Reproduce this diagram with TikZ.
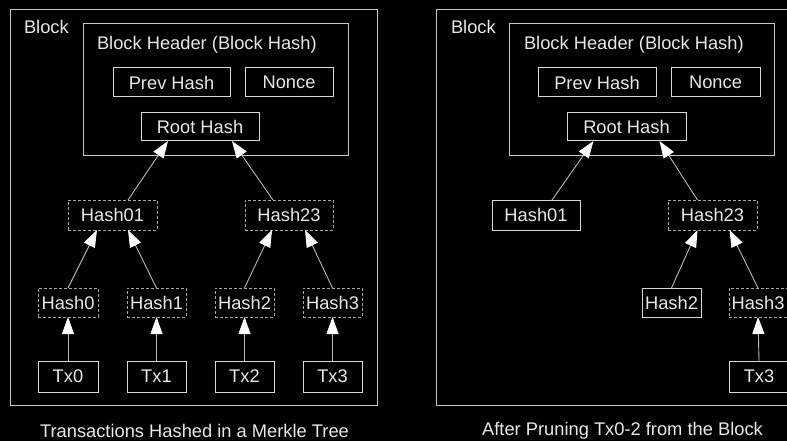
\documentclass[tikz,border=0pt]{standalone}
\usepackage{fontspec}
\setmainfont{Liberation Sans}
\usetikzlibrary{arrows.meta,calc}
\definecolor{txtcol}{HTML}{E8E8E8}
\definecolor{boxcol}{HTML}{D8D8D8}
\definecolor{dashcol}{HTML}{A8A8A8}
\definecolor{framecol}{HTML}{C8C8C8}
\definecolor{linecol}{HTML}{B8B8B8}
\tikzset{
  base/.style={rectangle, inner sep=0pt, outer sep=0pt, text=txtcol,
    font=\fontsize{18.3}{21}\selectfont, line width=1pt},
  solidbox/.style={base, draw=boxcol},
  dashbox/.style={base, draw=dashcol, dash pattern=on 3pt off 2pt},
  framebox/.style={base, draw=framecol},
  lbl/.style={inner sep=0pt, outer sep=0pt, text=txtcol, font=\fontsize{18.3}{21}\selectfont},
  conn/.style={draw=linecol, line width=0.9pt,
    -{Triangle[length=17pt,width=12pt,fill=white,color=white]}},
}
\begin{document}
\begin{tikzpicture}[x=1pt,y=-1pt]
\useasboundingbox (0,0) rectangle (787,441);
\clip (0,0) rectangle (787,441);
\fill[black] (0,0) rectangle (787,441);

% ---------- Left diagram ----------
\node[framebox, minimum width=367pt, minimum height=395pt] (blkL) at (193.5,207.5) {};
\node[lbl, anchor=base west] (blkLlbl) at (24,34) {Block};
\node[framebox, minimum width=265pt, minimum height=132pt] (hdrL) at (215.5,90) {};
\node[lbl, anchor=base west] (hdrLlbl) at (97,50) {Block Header (Block Hash)};
\node[solidbox, minimum width=117pt, minimum height=29pt] (prevL) at (171.5,82.5) {Prev Hash};
\node[solidbox, minimum width=88pt, minimum height=29pt] (nonceL) at (289,82.5) {Nonce};
\node[solidbox, minimum width=118pt, minimum height=28pt] (rootL) at (200,127) {Root Hash};
\node[dashbox, minimum width=89pt, minimum height=30pt] (h01L) at (112.5,215) {Hash01};
\node[dashbox, minimum width=88pt, minimum height=30pt] (h23L) at (289,215) {Hash23};
\node[dashbox, minimum width=60pt, minimum height=29pt] (h0L) at (68,302.5) {Hash0};
\node[dashbox, minimum width=59pt, minimum height=29pt] (h1L) at (156.5,302.5) {Hash1};
\node[dashbox, minimum width=59pt, minimum height=29pt] (h2L) at (244.5,302.5) {Hash2};
\node[dashbox, minimum width=59pt, minimum height=29pt] (h3L) at (332.5,302.5) {Hash3};
\node[solidbox, minimum width=60pt, minimum height=31pt] (tx0L) at (68,376.5) {Tx0};
\node[solidbox, minimum width=59pt, minimum height=31pt] (tx1L) at (156.5,376.5) {Tx1};
\node[solidbox, minimum width=59pt, minimum height=31pt] (tx2L) at (244.5,376.5) {Tx2};
\node[solidbox, minimum width=59pt, minimum height=31pt] (tx3L) at (332.5,376.5) {Tx3};
\node[lbl] (capL) at (194.5,431) {Transactions Hashed in a Merkle Tree};

\draw[conn] ($(h01L.north)+(15.5,0)$) -- ($(rootL.south)+(-32,0)$);
\draw[conn] ($(h23L.north)+(-16,0)$) -- ($(rootL.south)+(32,0)$);
\draw[conn] (h0L.north) -- ($(h01L.south)+(-15.5,0)$);
\draw[conn] (h1L.north) -- ($(h01L.south)+(15.5,0)$);
\draw[conn] (h2L.north) -- ($(h23L.south)+(-17,0)$);
\draw[conn] (h3L.north) -- ($(h23L.south)+(16,0)$);
\draw[conn] (tx0L.north) -- (h0L.south);
\draw[conn] (tx1L.north) -- (h1L.south);
\draw[conn] (tx2L.north) -- (h2L.south);
\draw[conn] (tx3L.north) -- (h3L.south);

% ---------- Right diagram ----------
\node[framebox, minimum width=367pt, minimum height=395pt] (blkR) at (619.5,207.5) {};
\node[lbl, anchor=base west] (blkRlbl) at (451,34) {Block};
\node[framebox, minimum width=265pt, minimum height=132pt] (hdrR) at (641.5,90) {};
\node[lbl, anchor=base west] (hdrRlbl) at (524,50) {Block Header (Block Hash)};
\node[solidbox, minimum width=118pt, minimum height=29pt] (prevR) at (597,82.5) {Prev Hash};
\node[solidbox, minimum width=89pt, minimum height=29pt] (nonceR) at (715.5,82.5) {Nonce};
\node[solidbox, minimum width=119pt, minimum height=28pt] (rootR) at (626.5,127) {Root Hash};
\node[solidbox, minimum width=88pt, minimum height=30pt] (h01R) at (536,215) {Hash01};
\node[dashbox, minimum width=89pt, minimum height=30pt] (h23R) at (712.5,215) {Hash23};
\node[solidbox, minimum width=59pt, minimum height=29pt] (h2R) at (671.5,302.5) {Hash2};
\node[dashbox, minimum width=58pt, minimum height=29pt] (h3R) at (758,302.5) {Hash3};
\node[solidbox, minimum width=60pt, minimum height=31pt] (tx3R) at (759,376.5) {Tx3};
\node[lbl] (capR) at (622.5,431) {After Pruning Tx0-2 from the Block};

\draw[conn] ($(h01R.north)+(16,0)$) -- ($(rootR.south)+(-33,0)$);
\draw[conn] ($(h23R.north)+(-15,0)$) -- ($(rootR.south)+(33,0)$);
\draw[conn] (h2R.north) -- ($(h23R.south)+(-15,0)$);
\draw[conn] (h3R.north) -- ($(h23R.south)+(17,0)$);
\draw[conn] (tx3R.north) -- (h3R.south);
\end{tikzpicture}
\end{document}
